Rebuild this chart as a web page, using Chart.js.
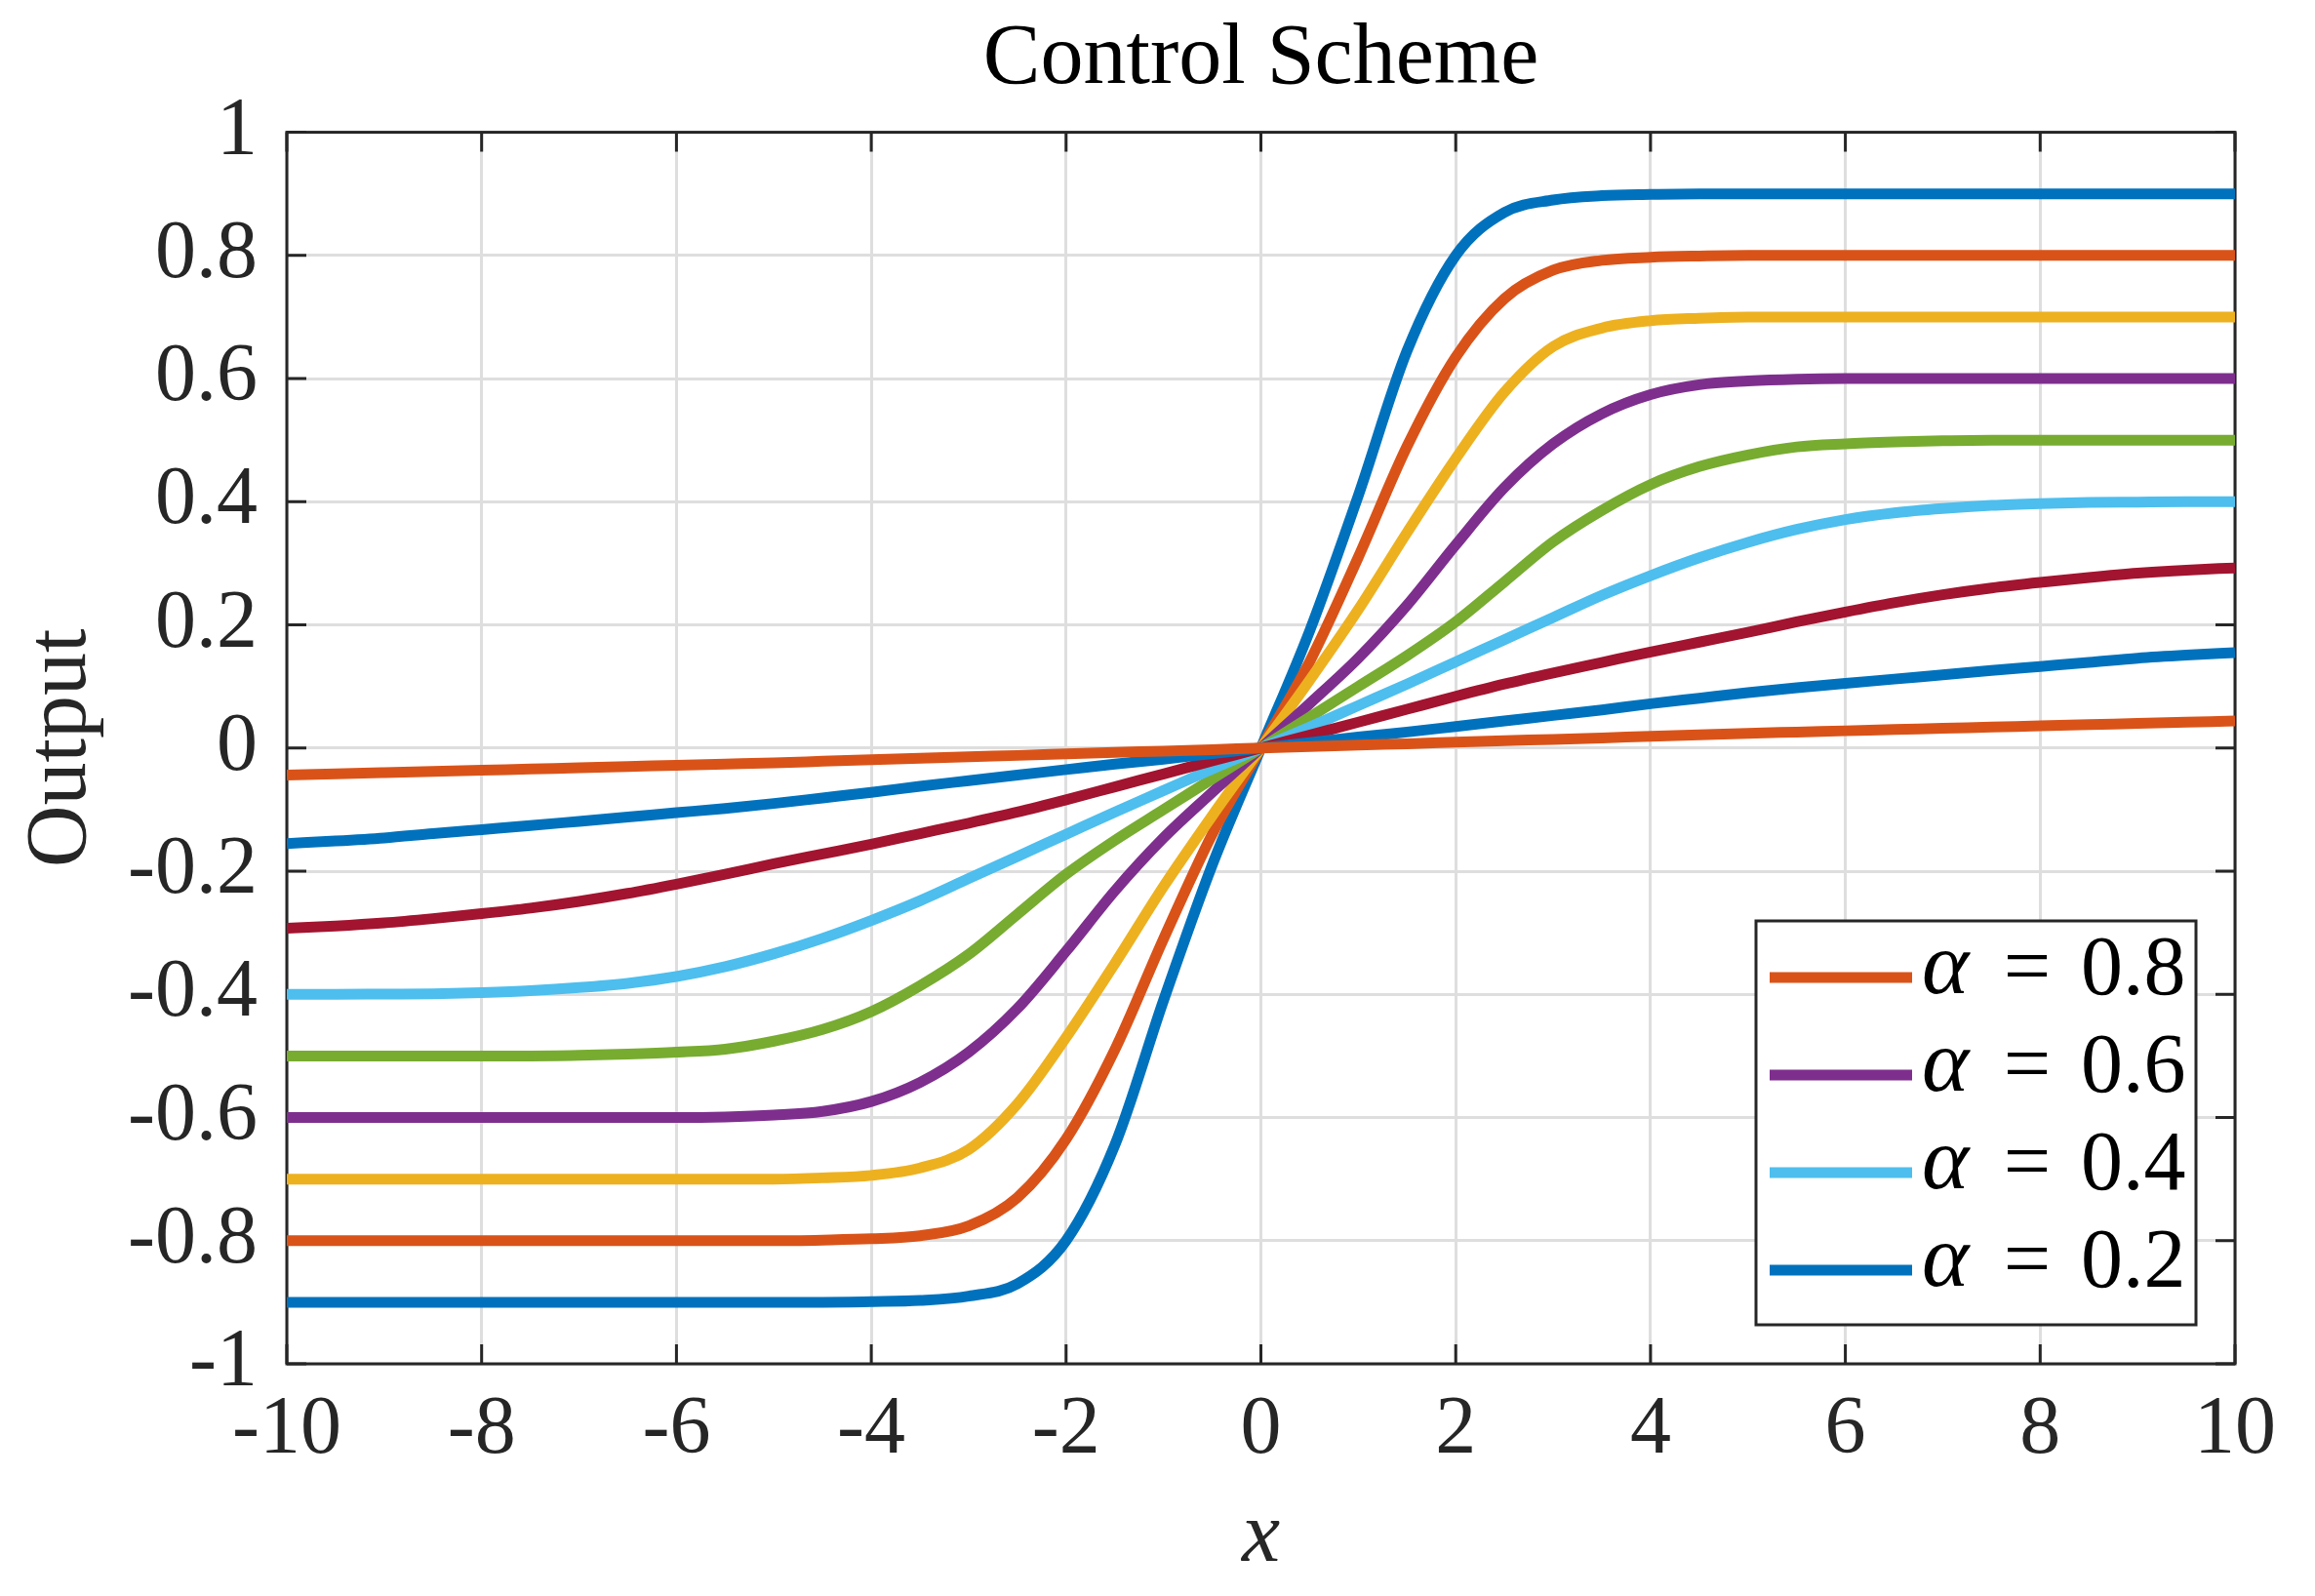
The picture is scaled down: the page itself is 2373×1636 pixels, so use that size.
<!DOCTYPE html>
<html>
<head>
<meta charset="utf-8">
<title>Control Scheme</title>
<script src="https://cdn.jsdelivr.net/npm/chart.js@4.4.1/dist/chart.umd.min.js"></script>
<style>
  html, body { margin: 0; padding: 0; background: #fff; }
  #wrap { width: 2373px; height: 1636px; }
</style>
</head>
<body>
<div id="wrap"><canvas id="chart" width="2373" height="1636"></canvas></div>
<script>
// values
const xValues = [-10,-9.5,-9,-8.5,-8,-7.5,-7,-6.5,-6,-5.5,-5,-4.5,-4,-3.5,-3,-2.5,-2,-1.5,-1,-0.5,0,0.5,1,1.5,2,2.5,3,3.5,4,4.5,5,5.5,6,6.5,7,7.5,8,8.5,9,9.5,10];

const sat90 = [-0.9,-0.9,-0.9,-0.9,-0.9,-0.9,-0.9,-0.9,-0.9,-0.9,-0.9,-0.9,-0.899,-0.897,-0.89,-0.87,-0.8,-0.645,-0.41,-0.19,0,0.19,0.41,0.645,0.8,0.87,0.89,0.897,0.899,0.9,0.9,0.9,0.9,0.9,0.9,0.9,0.9,0.9,0.9,0.9,0.9];
const sat80 = [-0.8,-0.8,-0.8,-0.8,-0.8,-0.8,-0.8,-0.8,-0.8,-0.8,-0.8,-0.799,-0.797,-0.792,-0.776,-0.73,-0.635,-0.49,-0.31,-0.14,0,0.14,0.31,0.49,0.635,0.73,0.776,0.792,0.797,0.799,0.8,0.8,0.8,0.8,0.8,0.8,0.8,0.8,0.8,0.8,0.8];
const sat70 = [-0.7,-0.7,-0.7,-0.7,-0.7,-0.7,-0.7,-0.7,-0.7,-0.7,-0.7,-0.698,-0.694,-0.682,-0.652,-0.578,-0.47,-0.35,-0.225,-0.11,0,0.11,0.225,0.35,0.47,0.578,0.652,0.682,0.694,0.698,0.7,0.7,0.7,0.7,0.7,0.7,0.7,0.7,0.7,0.7,0.7];
const sat60 = [-0.6,-0.6,-0.6,-0.6,-0.6,-0.6,-0.6,-0.6,-0.6,-0.599,-0.596,-0.59,-0.574,-0.543,-0.494,-0.423,-0.33,-0.232,-0.146,-0.072,0,0.072,0.146,0.232,0.33,0.423,0.494,0.543,0.574,0.59,0.596,0.599,0.6,0.6,0.6,0.6,0.6,0.6,0.6,0.6,0.6];
const sat50 = [-0.5,-0.5,-0.5,-0.5,-0.5,-0.5,-0.499,-0.497,-0.494,-0.489,-0.476,-0.457,-0.428,-0.386,-0.335,-0.27,-0.205,-0.15,-0.1,-0.05,0,0.05,0.1,0.15,0.205,0.27,0.335,0.386,0.428,0.457,0.476,0.489,0.494,0.497,0.499,0.5,0.5,0.5,0.5,0.5,0.5];
const sat40 = [-0.4,-0.4,-0.3995,-0.399,-0.397,-0.394,-0.389,-0.382,-0.371,-0.355,-0.334,-0.309,-0.28,-0.248,-0.212,-0.176,-0.14,-0.104,-0.069,-0.034,0,0.034,0.069,0.104,0.14,0.176,0.212,0.248,0.28,0.309,0.334,0.355,0.371,0.382,0.389,0.394,0.397,0.399,0.3995,0.4,0.4];
const slow30 = [-0.2925,-0.289,-0.284,-0.277,-0.269,-0.26,-0.249,-0.236,-0.221,-0.205,-0.188,-0.172,-0.156,-0.139,-0.122,-0.104,-0.084,-0.063,-0.042,-0.021,0,0.021,0.042,0.063,0.084,0.104,0.122,0.139,0.156,0.172,0.188,0.205,0.221,0.236,0.249,0.26,0.269,0.277,0.284,0.289,0.2925];
const slow16 = [-0.155,-0.151,-0.146,-0.139,-0.1325,-0.126,-0.119,-0.112,-0.105,-0.098,-0.09,-0.081,-0.072,-0.062,-0.053,-0.044,-0.035,-0.026,-0.018,-0.009,0,0.009,0.018,0.026,0.035,0.044,0.053,0.062,0.072,0.081,0.09,0.098,0.105,0.112,0.119,0.126,0.1325,0.139,0.146,0.151,0.155];
const slow04 = [-0.044,-0.042,-0.04,-0.038,-0.036,-0.034,-0.032,-0.03,-0.028,-0.026,-0.024,-0.0215,-0.019,-0.0165,-0.014,-0.012,-0.0095,-0.007,-0.005,-0.0025,0,0.0025,0.005,0.007,0.0095,0.012,0.014,0.0165,0.019,0.0215,0.024,0.026,0.028,0.03,0.032,0.034,0.036,0.038,0.04,0.042,0.044];

const seriesList = [sat90, sat80, sat70, sat60, sat50, sat40, slow30, slow16, slow04];
const seriesColors = ["#0072BD", "#D95319", "#EDB120", "#7E2F8E", "#77AC30", "#4DBEEE", "#A2142F", "#0072BD", "#D95319"];

// legend only names four of the lines
const legendSeries = [1, 3, 5, 7];
const legendValues = ["0.8", "0.6", "0.4", "0.2"];

const xTicks = [-10, -8, -6, -4, -2, 0, 2, 4, 6, 8, 10];
const xTickLabels = ["-10", "-8", "-6", "-4", "-2", "0", "2", "4", "6", "8", "10"];
const yTicks = [-1, -0.8, -0.6, -0.4, -0.2, 0, 0.2, 0.4, 0.6, 0.8, 1];
const yTickLabels = ["-1", "-0.8", "-0.6", "-0.4", "-0.2", "0", "0.2", "0.4", "0.6", "0.8", "1"];

const SERIF = "'Liberation Serif', 'DejaVu Serif', serif";
const AXIS_COLOR = "#262626";

const axesBox = {
	id: "axesBox",
	beforeDatasetsDraw(chart) {
		const { ctx, chartArea: a, scales: { x, y } } = chart;
		const tick = 20;
		ctx.save();
		ctx.strokeStyle = AXIS_COLOR;
		ctx.lineWidth = 3;
		ctx.beginPath();
		xTicks.forEach((v) => {
			const px = x.getPixelForValue(v);
			ctx.moveTo(px, a.bottom);
			ctx.lineTo(px, a.bottom - tick);
			ctx.moveTo(px, a.top);
			ctx.lineTo(px, a.top + tick);
		});
		yTicks.forEach((v) => {
			const py = y.getPixelForValue(v);
			ctx.moveTo(a.left, py);
			ctx.lineTo(a.left + tick, py);
			ctx.moveTo(a.right, py);
			ctx.lineTo(a.right - tick, py);
		});
		ctx.stroke();
		ctx.strokeRect(a.left, a.top, a.right - a.left, a.bottom - a.top);
		ctx.restore();
	},
	afterDatasetsDraw(chart) {
		const { ctx, chartArea: a } = chart;
		const w = 451;
		const h = 414;
		const left = a.right - 40 - w;
		const top = a.bottom - 40 - h;
		ctx.save();
		ctx.fillStyle = "#fff";
		ctx.fillRect(left, top, w, h);
		ctx.strokeStyle = AXIS_COLOR;
		ctx.lineWidth = 3;
		ctx.strokeRect(left, top, w, h);
		legendSeries.forEach((idx, i) => {
			const cy = top + 58 + i * 100;
			const ds = chart.data.datasets[idx];
			ctx.strokeStyle = ds.borderColor;
			ctx.lineWidth = ds.borderWidth;
			ctx.beginPath();
			ctx.moveTo(left + 14, cy);
			ctx.lineTo(left + 160, cy);
			ctx.stroke();
			ctx.fillStyle = "#000";
			ctx.textBaseline = "middle";
			ctx.textAlign = "left";
			ctx.font = "italic 92px " + SERIF;
			ctx.fillText("\u03b1", left + 170, cy - 8);
			ctx.font = "86px " + SERIF;
			ctx.textAlign = "center";
			ctx.fillText("=", left + 278, cy - 6);
			ctx.textAlign = "left";
			ctx.fillText(legendValues[i], left + 333, cy - 6);
		});
		ctx.restore();
	}
};

const datasets = seriesList.map((values, i) => ({
	label: "series " + (i + 1),
	data: xValues.map((xv, j) => ({ x: xv, y: values[j] })),
	borderColor: seriesColors[i],
	borderWidth: 11,
	borderJoinStyle: "round",
	pointRadius: 0,
	fill: false,
	cubicInterpolationMode: "monotone",
	order: seriesList.length - 1 - i
}));

new Chart(document.getElementById("chart"), {
	type: "line",
	data: { datasets },
	plugins: [axesBox],
	options: {
		responsive: false,
		animation: false,
		devicePixelRatio: 1,
		layout: { padding: { left: 0, right: 82, top: 0, bottom: 0 } },
		plugins: {
			legend: { display: false },
			tooltip: { enabled: false },
			title: {
				display: true,
				fullSize: false,
				text: "Control Scheme",
				color: "#000",
				font: { family: SERIF, size: 88, weight: "normal", lineHeight: 1.2 },
				padding: { top: 9, bottom: 21 }
			}
		},
		scales: {
			x: {
				type: "linear",
				min: -10,
				max: 10,
				afterBuildTicks: (s) => { s.ticks = xTicks.map((v) => ({ value: v })); },
				afterFit: (s) => { s.height = 238; },
				ticks: {
					callback: (v, i) => xTickLabels[i],
					color: AXIS_COLOR,
					font: { family: SERIF, size: 84, lineHeight: 1.2 },
					padding: 19,
					maxRotation: 0,
					autoSkip: false
				},
				grid: { color: "#dedede", lineWidth: 3, drawTicks: false },
				border: { display: false },
				title: {
					display: true,
					text: "x",
					color: AXIS_COLOR,
					font: { family: SERIF, size: 88, style: "italic", lineHeight: 1.2 },
					padding: { top: 0, bottom: 6 }
				}
			},
			y: {
				type: "linear",
				min: -1,
				max: 1,
				afterBuildTicks: (s) => { s.ticks = yTicks.map((v) => ({ value: v })); },
				afterFit: (s) => { s.width = 294; },
				ticks: {
					callback: (v, i) => yTickLabels[i],
					color: AXIS_COLOR,
					font: { family: SERIF, size: 84, lineHeight: 1.2 },
					padding: 30,
					autoSkip: false
				},
				grid: { color: "#dedede", lineWidth: 3, drawTicks: false },
				border: { display: false },
				title: {
					display: true,
					text: "Output",
					color: AXIS_COLOR,
					font: { family: SERIF, size: 88, lineHeight: 1.2 },
					padding: { top: 11, bottom: 0 }
				}
			}
		}
	}
});
</script>
</body>
</html>
